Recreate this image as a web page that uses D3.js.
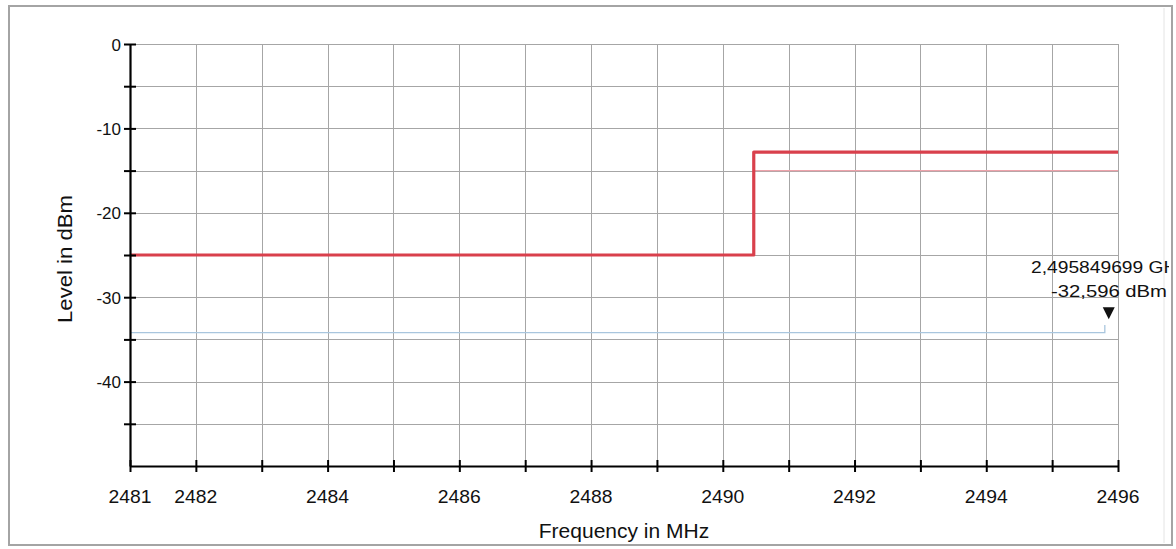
<!DOCTYPE html>
<html><head><meta charset="utf-8">
<script src="https://cdn.jsdelivr.net/npm/d3@7"></script>
<style>
html,body{margin:0;padding:0;background:#fff;}
svg{display:block;font-family:"Liberation Sans",Arial,sans-serif;}
</style></head>
<body>
<svg id="chart" width="1176" height="549"></svg>
<script>
// ---- data ----
const freqDomain = [2481, 2496];
const levelDomain = [-50, 0];
const freqGrid = [2481,2482,2483,2484,2485,2486,2487,2488,2489,2490,2491,2492,2493,2494,2495,2496];
const freqLabels = [2481,2482,2484,2486,2488,2490,2492,2494,2496];
const levelGrid = [0,-5,-10,-15,-20,-25,-30,-35,-40,-45];
const levelLabels = [0,-10,-20,-30,-40];
// limit line (thick red)
const limitFreq = [2481, 2490.47, 2490.47, 2496];
const limitLevel = [-25, -25, -12.8, -12.8];
// thin red line
const thinFreq = [2490.47, 2496];
const thinLevel = [-15, -15];
// measured trace (light blue)
const traceFreq = [2481, 2495.8, 2495.8];
const traceLevel = [-34.2, -34.2, -33.3];
// marker
const markerFreq = 2495.86;
const markerLevel = -32.6;
const markerText = ["2,495849699 GHz", "-32,596 dBm"];

// ---- layout ----
const svg = d3.select("#chart");
const L = 130, R = 1118, T = 44, B = 466;
const x = d3.scaleLinear().domain(freqDomain).range([L, R]);
const y = d3.scaleLinear().domain(levelDomain).range([B, T]);

// outer frame
svg.append("rect").attr("x",9).attr("y",6).attr("width",1163).attr("height",539)
  .attr("fill","none").attr("stroke","#a4a4a4").attr("stroke-width",2);
svg.append("line").attr("x1",1164).attr("x2",1164).attr("y1",8).attr("y2",543)
  .attr("stroke","#e4e4e4").attr("stroke-width",1);

// grid
const grid = svg.append("g").attr("stroke","#a6a6a6").attr("stroke-width",1);
grid.selectAll(".vg").data(freqGrid.slice(1)).join("line")
  .attr("x1",d=>Math.round(x(d))+0.5).attr("x2",d=>Math.round(x(d))+0.5)
  .attr("y1",T).attr("y2",B);
grid.selectAll(".hg").data(levelGrid).join("line")
  .attr("x1",L).attr("x2",R)
  .attr("y1",d=>Math.round(y(d))+0.5).attr("y2",d=>Math.round(y(d))+0.5);

// traces
const line = d3.line().x(d=>x(d[0])).y(d=>y(d[1]));
svg.append("path").datum(traceFreq.map((f,i)=>[f,traceLevel[i]]))
  .attr("d",line).attr("fill","none").attr("stroke","#a9c6de").attr("stroke-width",1.3);
svg.append("path").datum(thinFreq.map((f,i)=>[f,thinLevel[i]]))
  .attr("d",line).attr("fill","none").attr("stroke","#eda2aa").attr("stroke-width",1.3);
svg.append("path").datum(limitFreq.map((f,i)=>[f,limitLevel[i]]))
  .attr("d",line).attr("fill","none").attr("stroke","#d9404c").attr("stroke-width",3.2)
  .attr("stroke-linejoin","round");

// axes
const xAxis = d3.axisBottom(x).tickValues(freqGrid).tickSizeInner(0).tickSizeOuter(0).tickFormat("");
const gx = svg.append("g").attr("transform",`translate(0,${B})`).call(xAxis);
gx.select(".domain").attr("stroke","#000").attr("stroke-width",2.2);
gx.selectAll(".tick line").attr("y1",-6).attr("y2",6).attr("stroke","#000").attr("stroke-width",2);
const yAxis = d3.axisLeft(y).tickValues(levelGrid).tickSizeInner(0).tickSizeOuter(0).tickFormat("");
const gy = svg.append("g").attr("transform",`translate(${L},0)`).call(yAxis);
gy.select(".domain").attr("stroke","#000").attr("stroke-width",2.2);
gy.selectAll(".tick line").attr("x1",-6).attr("x2",6).attr("stroke","#000").attr("stroke-width",2);

// tick labels
svg.append("g").selectAll("text").data(freqLabels).join("text")
  .attr("x",d=>x(d)).attr("y",503).attr("text-anchor","middle")
  .attr("font-size",19).attr("fill","#111")
  .attr("textLength",43).attr("lengthAdjust","spacingAndGlyphs")
  .text(d=>d);
svg.append("g").selectAll("text").data(levelLabels).join("text")
  .attr("x",121).attr("y",d=>y(d)+6.5).attr("text-anchor","end")
  .attr("font-size",17).attr("fill","#111")
  .text(d=>d);

// axis titles
svg.append("text").attr("x",624).attr("y",538).attr("text-anchor","middle")
  .attr("font-size",21).attr("fill","#111").text("Frequency in MHz");
svg.append("text").attr("transform","translate(72,259) rotate(-90)").attr("text-anchor","middle")
  .attr("font-size",21).attr("fill","#111")
  .attr("textLength",128).attr("lengthAdjust","spacingAndGlyphs").text("Level in dBm");

// marker
const mx = x(markerFreq), my = y(markerLevel);
svg.append("path").attr("d",`M${mx-6},${my-12} L${mx+6},${my-12} L${mx},${my} Z`).attr("fill","#111");
svg.append("clipPath").attr("id","frameclip").append("rect")
  .attr("x",10).attr("y",7).attr("width",1159).attr("height",537);
const mt = svg.append("g").attr("clip-path","url(#frameclip)");
mt.append("text").attr("x",1031).attr("y",273).attr("font-size",16).attr("fill","#111")
  .attr("textLength",156).attr("lengthAdjust","spacingAndGlyphs").text(markerText[0]);
mt.append("text").attr("x",1051).attr("y",297).attr("font-size",16).attr("fill","#111")
  .attr("textLength",116).attr("lengthAdjust","spacingAndGlyphs").text(markerText[1]);
</script>
</body></html>
